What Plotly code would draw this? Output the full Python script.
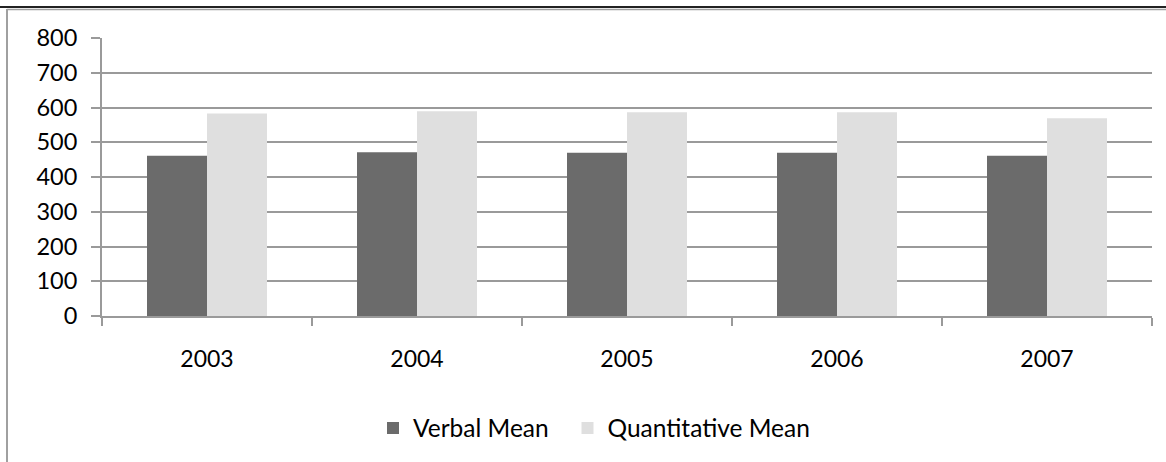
import plotly.graph_objects as go

years = ["2003", "2004", "2005", "2006", "2007"]
verbal_mean = [461, 471, 470, 470, 461]
quant_mean = [583, 589, 586, 586, 569]
y_ticks = [0, 100, 200, 300, 400, 500, 600, 700, 800]

W, H = 1166, 462
L, R, T, B = 102, 14, 38, 146
PW = W - L - R
PH = H - T - B


def px(x):
    return (x - L) / PW


def py(y):
    return (H - B - y) / PH


FONT = "Lato, Carlito, 'Open Sans', sans-serif"
GRID = "#9a9a9a"

fig = go.Figure()
fig.add_trace(go.Bar(x=years, y=verbal_mean, name="Verbal Mean", legend="legend",
                     marker=dict(color="#6b6b6b", line=dict(width=0))))
fig.add_trace(go.Bar(x=years, y=quant_mean, name="Quantitative Mean", legend="legend2",
                     marker=dict(color="#dfdfdf", line=dict(width=0))))

leg_common = dict(orientation="h", xanchor="left",
                  y=py(428), yanchor="middle",
                  font=dict(family=FONT, size=24.5, color="black"),
                  bgcolor="rgba(0,0,0,0)", itemclick=False)

fig.update_layout(
    width=W, height=H,
    margin=dict(l=L, r=R, t=T, b=B, pad=0),
    paper_bgcolor="white", plot_bgcolor="white",
    barmode="group", bargap=0.4286, bargroupgap=0,
    font=dict(family=FONT, size=23, color="black"),
    showlegend=True,
    legend=dict(x=px(373), **leg_common),
    legend2=dict(x=px(567.5), **leg_common),
    xaxis=dict(type="category", showgrid=False, showline=True,
               linecolor=GRID, linewidth=2, ticks="outside",
               tickson="boundaries", ticklen=8, tickcolor=GRID, tickwidth=2,
               ticklabelstandoff=21, zeroline=False,
               tickfont=dict(family=FONT, size=23, color="black")),
    yaxis=dict(range=[0, 800], tickvals=y_ticks,
               showgrid=True, gridcolor=GRID, gridwidth=2,
               showline=True, linecolor=GRID, linewidth=2,
               ticks="outside", ticklen=9, tickcolor=GRID, tickwidth=2,
               ticklabelstandoff=9, zeroline=False,
               tickfont=dict(family=FONT, size=23.5, color="black")),
    shapes=[
        dict(type="line", xref="paper", yref="paper",
             x0=px(0), x1=px(W), y0=py(7), y1=py(7),
             line=dict(color="#222222", width=2)),
        dict(type="line", xref="paper", yref="paper",
             x0=px(7), x1=px(W), y0=py(9.5), y1=py(9.5),
             line=dict(color="#a0a0a0", width=1.5)),
        dict(type="line", xref="paper", yref="paper",
             x0=px(7), x1=px(7), y0=py(9), y1=py(H),
             line=dict(color="#a0a0a0", width=2)),
    ],
    annotations=[
        dict(text="ration.", xref="paper", yref="paper",
             x=px(-2), y=py(2), xanchor="left", yanchor="bottom",
             showarrow=False,
             font=dict(family="Liberation Serif, serif", size=22, color="black")),
    ],
)

fig.write_html("out.html", config={"displayModeBar": False},
               post_script="document.body.style.margin='0';document.body.style.padding='0';")
